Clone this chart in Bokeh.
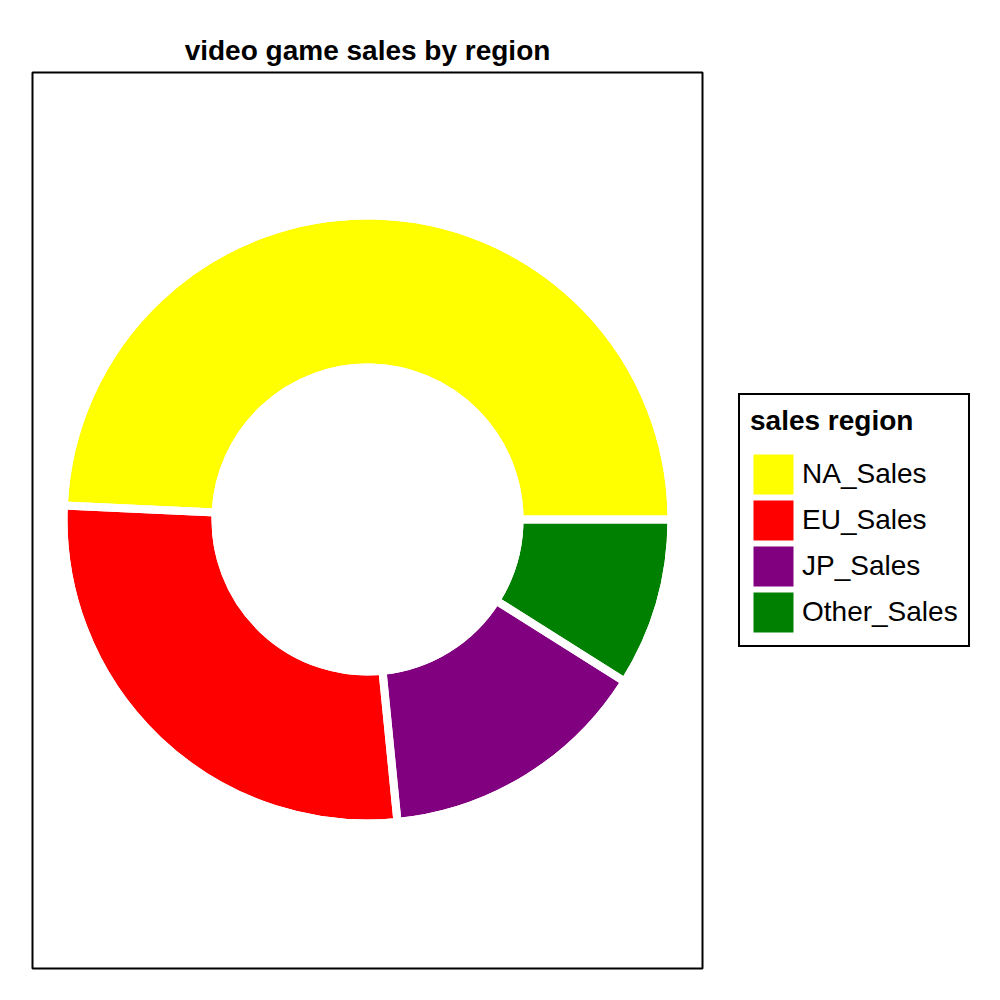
import math
from bokeh.plotting import figure
from bokeh.models import ColumnDataSource, Legend, LegendItem
from bokeh.embed import file_html
from bokeh.resources import INLINE

regions = ["NA_Sales", "EU_Sales", "JP_Sales", "Other_Sales"]
sales = [4392.95, 2434.13, 1291.02, 797.75]
colors = ["yellow", "red", "purple", "green"]

total = sum(sales)
starts, ends = [], []
acc = 0.0
for s in sales:
    starts.append(acc / total * 2 * math.pi)
    acc += s
    ends.append(acc / total * 2 * math.pi)

src = ColumnDataSource(dict(region=regions, sales=sales, color=colors,
                            start=starts, end=ends))

FW, FH = 670, 896
p = figure(width=1000, height=1000, output_backend="svg", toolbar_location=None,
           x_range=(0, FW), y_range=(0, FH),
           min_border_left=32, min_border_top=72, min_border_bottom=24,
           title="video game sales by region")
p.frame_width = FW
p.frame_height = FH
p.title.align = "center"
p.title.text_font = "Liberation Sans"
p.title.text_font_size = "28px"
p.title.text_font_style = "bold"
p.title.text_color = "black"
p.title.standoff = 14
p.axis.visible = False
p.grid.visible = False
p.outline_line_color = "black"
p.outline_line_width = 2

cx, cy = 335, FH - (519 - 72)
R_OUT, R_IN, gap = 300, 156, 8
edge = 3.2  # same-colour edge so legend swatches get their full size
base = p.annular_wedge(x=cx, y=cy, inner_radius=R_IN + edge / 2, outer_radius=R_OUT - edge / 2,
                       inner_radius_units="screen", outer_radius_units="screen",
                       start_angle="start", end_angle="end",
                       fill_color="color", line_color="color", line_width=edge,
                       line_join="miter", source=src)
p.annular_wedge(x=cx, y=cy, inner_radius=R_IN - gap / 2, outer_radius=R_OUT + gap / 2,
                inner_radius_units="screen", outer_radius_units="screen",
                start_angle="start", end_angle="end",
                fill_color=None, line_color="white", line_width=gap, source=src)

items = [LegendItem(label=regions[i], renderers=[base], index=i) for i in range(len(regions))]
legend = Legend(items=items, title="sales region")
legend.title_text_font = "Liberation Sans"
legend.title_text_font_size = "28px"
legend.title_text_font_style = "bold"
legend.title_text_color = "black"
legend.title_standoff = 14
legend.label_text_font = "Liberation Sans"
legend.label_text_font_size = "28px"
legend.label_text_color = "black"
legend.glyph_width = 46
legend.glyph_height = 46
legend.spacing = 0
legend.label_standoff = 6
legend.padding = 10
legend.margin = 36
legend.border_line_color = "black"
legend.border_line_alpha = 1.0
legend.border_line_width = 2
legend.location = "center_left"
p.add_layout(legend, "right")

open("out.html", "w").write(file_html(p, INLINE))
